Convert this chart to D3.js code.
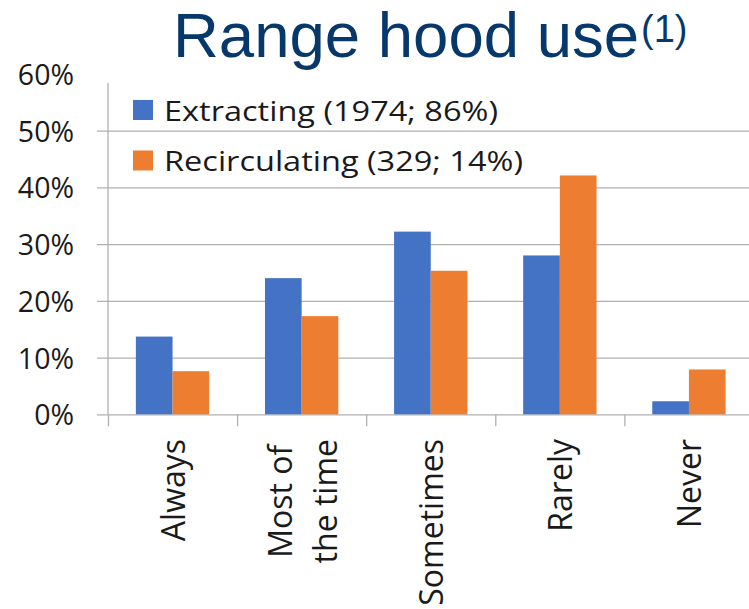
<!DOCTYPE html>
<html>
<head>
<meta charset="utf-8">
<script src="https://cdn.jsdelivr.net/npm/d3@7"></script>
<style>
  html, body { margin: 0; padding: 0; background: #fff; }
  svg { display: block; }
</style>
</head>
<body>
<svg id="chart" width="749" height="609"></svg>
<script>
// Range hood use frequency, by hood type
const categories = ["Always", "Most of\nthe time", "Sometimes", "Rarely", "Never"];
const seriesNames = ["Extracting (1974; 86%)", "Recirculating (329; 14%)"];
const extracting = [0.137, 0.240, 0.322, 0.280, 0.023];
const recirculating = [0.076, 0.173, 0.253, 0.421, 0.079];
const yTicks = [0, 0.1, 0.2, 0.3, 0.4, 0.5, 0.6];
const gridTicks = [0, 0.1, 0.2, 0.3, 0.4, 0.5];
const colors = ["#4472C4", "#ED7D31"];

const W = 749, H = 609;
const svg = d3.select("#chart");

const rows = categories.map((c, i) => ({ cat: c, values: [extracting[i], recirculating[i]] }));

const plotLeft = 108, bandW = 129.1;
const x = d3.scaleBand().domain(categories).range([plotLeft, plotLeft + bandW * categories.length]);
const xs = d3.scaleBand().domain([0, 1]).range([0, x.bandwidth()]).paddingInner(0).paddingOuter(0.76);
const y = d3.scaleLinear().domain([0, 0.6]).range([414.3, 73.9]);

const gridColor = "#B0B0B0";

// horizontal gridlines, extending left as outside ticks
const grid = svg.append("g")
  .attr("transform", `translate(${plotLeft - 11},0)`)
  .call(d3.axisLeft(y).tickValues(gridTicks).tickSize(-(W - plotLeft + 11)).tickFormat(""));
grid.select(".domain").remove();
grid.selectAll(".tick line").attr("stroke", gridColor).attr("stroke-width", 1.3);

// y axis line (plot area clipped near the top)
svg.append("line")
  .attr("x1", plotLeft).attr("x2", plotLeft)
  .attr("y1", 83).attr("y2", y(0))
  .attr("stroke", gridColor).attr("stroke-width", 1.3);

// y tick labels
const yAxis = svg.append("g")
  .attr("transform", `translate(74,1.5)`)
  .call(d3.axisLeft(y).tickValues(yTicks).tickSize(0).tickPadding(0).tickFormat(d3.format(".0%")));
yAxis.select(".domain").remove();
yAxis.selectAll("text")
  .attr("font-family", "'Open Sans', sans-serif")
  .attr("font-size", 28.5)
  .attr("fill", "#1a1a1a");

// category boundary ticks below the baseline
const edges = d3.scaleLinear().domain([0, categories.length]).range(x.range());
const xAxis = svg.append("g")
  .attr("transform", `translate(0,${y(0)})`)
  .call(d3.axisBottom(edges).tickValues(d3.range(categories.length + 1)).tickSize(12).tickFormat(""));
xAxis.select(".domain").remove();
xAxis.selectAll(".tick line").attr("stroke", gridColor).attr("stroke-width", 1.3);

// bars
const groups = svg.append("g").selectAll("g")
  .data(rows).join("g")
  .attr("transform", d => `translate(${x(d.cat)},0)`);
groups.selectAll("rect")
  .data(d => d.values.map((v, k) => ({ v, k })))
  .join("rect")
  .attr("x", d => xs(d.k))
  .attr("width", xs.bandwidth())
  .attr("y", d => y(d.v))
  .attr("height", d => y(0) - y(d.v))
  .attr("fill", d => colors[d.k]);

// rotated category labels, lines centred on each other, block ending near the axis
const labelTop = 439;
const labels = svg.append("g").selectAll("text")
  .data(categories).join("text")
  .attr("font-family", "'Open Sans', sans-serif")
  .attr("font-size", 32)
  .attr("fill", "#1a1a1a")
  .attr("text-anchor", "middle")
  .each(function (c) {
    const lines = c.split("\n");
    const node = d3.select(this);
    const cx = x(c) + x.bandwidth() / 2;
    const lineGap = 45;
    const widths = lines.map(l => {
      const t = node.append("tspan").text(l);
      const w = t.node().getComputedTextLength();
      t.remove();
      return w;
    });
    const maxW = d3.max(widths);
    const midY = labelTop + maxW / 2;
    const firstBase = cx + 12.5 - (lines.length - 1) * lineGap / 2;
    node.attr("transform", `translate(0,${midY}) rotate(-90)`);
    lines.forEach((l, i) => {
      node.append("tspan")
        .attr("x", 0)
        .attr("y", firstBase + i * lineGap)
        .text(l);
    });
  });

// legend
const legend = svg.append("g");
const legendRows = [
  { name: seriesNames[0], color: colors[0], top: 100, base: 121, len: 334 },
  { name: seriesNames[1], color: colors[1], top: 150.5, base: 171, len: 359 }
];
legendRows.forEach(r => {
  legend.append("rect")
    .attr("x", 133).attr("y", r.top)
    .attr("width", 20).attr("height", 20)
    .attr("fill", r.color);
  legend.append("text")
    .attr("x", 164).attr("y", r.base)
    .attr("font-family", "'Open Sans', sans-serif").attr("font-size", 28)
    .attr("fill", "#1a1a1a")
    .attr("textLength", r.len).attr("lengthAdjust", "spacingAndGlyphs")
    .text(r.name);
});

// title with superscript note marker
const title = svg.append("text")
  .attr("x", 173).attr("y", 57)
  .attr("font-family", "'Liberation Sans', Arial, sans-serif")
  .attr("font-size", 63.5)
  .attr("fill", "#06386B");
title.append("tspan").text("Range hood use");
title.append("tspan").attr("font-size", 38).attr("dx", 2).attr("dy", -15).text("(1)");
</script>
</body>
</html>
